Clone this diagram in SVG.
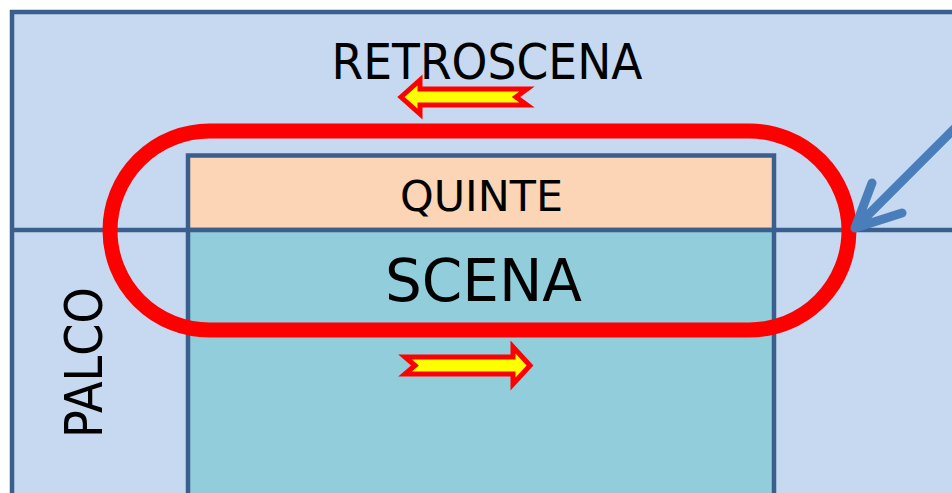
<svg xmlns="http://www.w3.org/2000/svg" width="952" height="493" viewBox="0 0 952 493">
<style>
.frame{stroke:#3B5F8D;stroke-width:4.5;}
.loop{fill:none;stroke:#FF0000;stroke-width:15;}
.yarrow{fill:#FFFF00;stroke:#FF0000;stroke-width:5;stroke-linejoin:miter;}
.pointer{fill:none;stroke:#4A7EBB;stroke-width:9;stroke-linecap:round;stroke-linejoin:round;}
.lbl{font-family:"DejaVu Sans",Verdana,sans-serif;fill:#000;}
</style>
<rect width="952" height="493" fill="#FFFFFF"/>
<g id="palco-area">
<rect class="frame" x="12" y="12" width="960" height="500" fill="#C6D9F0"/>
<line class="frame" x1="12" y1="230" x2="952" y2="230"/>
</g>
<g id="quinte">
<rect class="frame" x="188" y="155.5" width="586" height="74.5" fill="#FBD5B5"/>
</g>
<g id="scena">
<rect class="frame" x="188" y="230" width="586" height="280" fill="#92CDDC"/>
</g>
<g id="connectors">
<path class="loop" d="M209.5,131 H749.5 A99.5,99.5 0 0 1 749.5,330 H209.5 A99.5,99.5 0 0 1 209.5,131 Z"/>
<polygon class="yarrow" points="401,97 420,80 420,89 527,89 516,97 527,105 420,105 420,114"/>
<polygon class="yarrow" points="530,365.5 513,347 513,357 405,357 415,365.5 405,374 513,374 513,384"/>
<path class="pointer" d="M962,121 L855,228 M872,183 L855,228 L902,213"/>
</g>
<g id="labels">
<text class="lbl" x="487" y="79" font-size="49" text-anchor="middle" textLength="311" lengthAdjust="spacingAndGlyphs">RETROSCENA</text>
<text class="lbl" x="481.5" y="211" font-size="42" text-anchor="middle" textLength="163" lengthAdjust="spacingAndGlyphs">QUINTE</text>
<text class="lbl" x="483.5" y="301" font-size="59" text-anchor="middle" textLength="197" lengthAdjust="spacingAndGlyphs">SCENA</text>
<text class="lbl" transform="translate(102,362.5) rotate(-90)" x="0" y="0" font-size="51" text-anchor="middle" textLength="151" lengthAdjust="spacingAndGlyphs">PALCO</text>
</g>
</svg>
